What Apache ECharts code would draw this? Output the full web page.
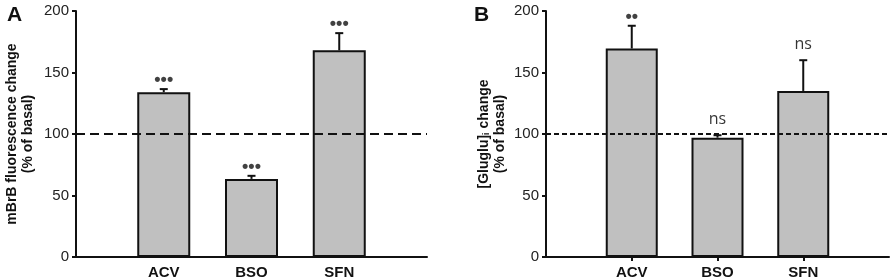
<!DOCTYPE html>
<html>
<head>
<meta charset="utf-8">
<script src="https://cdn.jsdelivr.net/npm/echarts@6/dist/echarts.min.js"></script>
<style>
  html, body { margin: 0; padding: 0; background: #fff; }
  #chart { width: 892px; height: 280px; }
</style>
</head>
<body>
<div id="chart"></div>
<script>
// categories (empty slots keep the axis ends free like the original figure)
var categories = ['', 'ACV', 'BSO', 'SFN', ''];

// panel A : mBrB fluorescence change (% of basal)
var meanA = [null, 134, 63.5, 168, null];
var errA = [null, 136.5, 66, 182, null];
var sigA = ['', '***', '***', '***', ''];

// panel B : [Gluglu]i change (% of basal)
var meanB = [null, 169.5, 97, 135, null];
var errB = [null, 188, 99, 160, null];
var sigB = ['', '**', 'ns', 'ns', ''];

var yTicks = [0, 50, 100, 150, 200];
var basal = 100;

var FONT = 'Liberation Sans, Arial, sans-serif';

function sigText(s) {
	// the significance stars print as small round dots in the figure
	if (s.indexOf('*') === 0) {
		return '{d|' + s.replace(/\*/g, '\u2022') + '}';
	}
	return '{n|' + s + '}';
}

function buildSeries(idx, mean, err, sig, dash) {
	var barData = [];
	var errData = [];
	var sigData = [];
	for (var i = 0; i < categories.length; i++) {
		barData.push(mean[i]);
		if (mean[i] != null) {
			errData.push([i, mean[i], err[i]]);
			sigData.push({ value: [i, err[i]], name: sig[i] });
		}
	}
	return [{
		type: 'bar',
		xAxisIndex: idx,
		yAxisIndex: idx,
		data: barData,
		barWidth: idx === 0 ? 53 : 52,
		itemStyle: { color: '#c0c0c0', borderColor: '#111', borderWidth: 2 },
		silent: true,
		z: 2,
		markLine: {
			silent: true,
			symbol: 'none',
			label: { show: false },
			lineStyle: { color: '#111', width: 2, type: dash, opacity: 1 },
			data: [{ yAxis: basal }],
			z: 5
		}
	}, {
		type: 'custom',
		xAxisIndex: idx,
		yAxisIndex: idx,
		data: errData,
		z: 3,
		renderItem: function(params, api) {
			var base = api.coord([api.value(0), api.value(1)]);
			var top = api.coord([api.value(0), api.value(2)]);
			var style = { stroke: '#111', lineWidth: 2 };
			return {
				type: 'group',
				children: [
					{ type: 'line', shape: { x1: base[0], y1: base[1], x2: top[0], y2: top[1] }, style: style },
					{ type: 'line', shape: { x1: top[0] - 4, y1: top[1], x2: top[0] + 4, y2: top[1] }, style: style }
				]
			};
		}
	}, {
		type: 'scatter',
		xAxisIndex: idx,
		yAxisIndex: idx,
		data: sigData,
		symbolSize: 0,
		silent: true,
		label: {
			show: true,
			position: 'top',
			distance: 2,
			formatter: function(p) { return sigText(p.name); },
			rich: {
				d: { fontFamily: FONT, fontWeight: 'bold', fontSize: 18, color: '#111', lineHeight: 14 },
				n: { fontFamily: 'Open Sans, sans-serif', fontSize: 16, color: '#000', lineHeight: 28 }
			}
		}
	}];
}

var voChart = echarts.init(document.getElementById('chart'), null, { renderer: 'canvas' });

function xAxisOf(idx, showTick) {
	return {
		type: 'category',
		gridIndex: idx,
		data: categories,
		boundaryGap: false,
		axisLine: { lineStyle: { color: '#111', width: 2 } },
		axisTick: {
			show: showTick,
			length: 4,
			interval: function(i, v) { return v !== ''; },
			lineStyle: { color: '#111', width: 2 }
		},
		axisLabel: {
			interval: 0,
			color: '#111',
			fontFamily: FONT,
			fontWeight: 'bold',
			fontSize: 15,
			margin: 8
		},
		splitLine: { show: false }
	};
}

function yAxisOf(idx, name) {
	return {
		type: 'value',
		gridIndex: idx,
		min: yTicks[0],
		max: yTicks[yTicks.length - 1],
		interval: 50,
		name: name,
		nameLocation: 'middle',
		nameRotate: 90,
		nameGap: idx === 0 ? 40 : 38,
		nameTextStyle: {
			color: '#111',
			fontFamily: FONT,
			fontWeight: 'bold',
			fontSize: 14,
			lineHeight: 16,
			rich: {
				b: { fontFamily: FONT, fontWeight: 'bold', fontSize: 14, color: '#111', lineHeight: 16 },
				sub: { fontFamily: FONT, fontWeight: 'bold', fontSize: 9, color: '#111', lineHeight: 16, padding: [5, 0, 0, 0] }
			}
		},
		axisLine: { show: true, lineStyle: { color: '#111', width: 2 } },
		axisTick: { show: true, length: 4, lineStyle: { color: '#111', width: 2 } },
		axisLabel: { color: '#222', fontFamily: FONT, fontSize: 15, margin: 7 },
		splitLine: { show: false }
	};
}

var series = []
	.concat(buildSeries(0, meanA, errA, sigA, [9, 5]))
	.concat(buildSeries(1, meanB, errB, sigB, [5, 3]));

voChart.setOption({
	animation: false,
	backgroundColor: '#fff',
	title: [
		{ text: 'A', left: 2, top: 0, textStyle: { fontFamily: FONT, fontWeight: 'bold', fontSize: 21, color: '#111' } },
		{ text: 'B', left: 469, top: 0, textStyle: { fontFamily: FONT, fontWeight: 'bold', fontSize: 21, color: '#111' } }
	],
	grid: [
		{ left: 76, right: 465, top: 11, bottom: 23 },
		{ left: 546, right: 2, top: 11, bottom: 23 }
	],
	xAxis: [xAxisOf(0, false), xAxisOf(1, true)],
	yAxis: [
		yAxisOf(0, 'mBrB fluorescence change\n(% of basal)'),
		yAxisOf(1, '{b|[Gluglu]}{sub|i}{b| change}\n{b|(% of basal)}')
	],
	series: series
});

window.addEventListener('resize', function() {
	voChart.resize();
});
</script>
</body>
</html>
